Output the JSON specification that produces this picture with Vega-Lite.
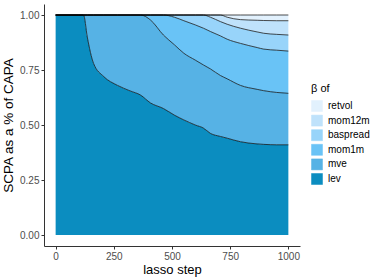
{
  "$schema": "https://vega.github.io/schema/vega-lite/v6.json",
  "autosize": "none",
  "padding": {"left": 44, "top": 4, "right": 82, "bottom": 33},
  "width": 256,
  "height": 242,
  "background": "white",
  "config": {
    "view": {"stroke": null},
    "font": "Liberation Sans"
  },
  "datasets": {
    "ranks": [
      {"key": "lev", "rank": 1},
      {"key": "mve", "rank": 2},
      {"key": "mom1m", "rank": 3},
      {"key": "baspread", "rank": 4},
      {"key": "mom12m", "rank": 5},
      {"key": "retvol", "rank": 6}
    ]
  },
  "data": {
    "values": [
      {"step": 0, "lev": 1, "mve": 0, "mom1m": 0, "baspread": 0, "mom12m": 0, "retvol": 0},
      {"step": 100, "lev": 1, "mve": 0, "mom1m": 0, "baspread": 0, "mom12m": 0, "retvol": 0},
      {"step": 120, "lev": 1, "mve": 0, "mom1m": 0, "baspread": 0, "mom12m": 0, "retvol": 0},
      {"step": 136, "lev": 0.9, "mve": 0.1, "mom1m": 0, "baspread": 0, "mom12m": 0, "retvol": 0},
      {"step": 163, "lev": 0.78, "mve": 0.22, "mom1m": 0, "baspread": 0, "mom12m": 0, "retvol": 0},
      {"step": 207, "lev": 0.72, "mve": 0.28, "mom1m": 0, "baspread": 0, "mom12m": 0, "retvol": 0},
      {"step": 266, "lev": 0.68, "mve": 0.32, "mom1m": 0, "baspread": 0, "mom12m": 0, "retvol": 0},
      {"step": 320, "lev": 0.655, "mve": 0.345, "mom1m": 0, "baspread": 0, "mom12m": 0, "retvol": 0},
      {"step": 365, "lev": 0.636, "mve": 0.364, "mom1m": 0, "baspread": 0, "mom12m": 0, "retvol": 0},
      {"step": 408, "lev": 0.6, "mve": 0.377, "mom1m": 0.023, "baspread": 0, "mom12m": 0, "retvol": 0},
      {"step": 463, "lev": 0.575, "mve": 0.334, "mom1m": 0.091, "baspread": 0, "mom12m": 0, "retvol": 0},
      {"step": 510, "lev": 0.545, "mve": 0.32, "mom1m": 0.125, "baspread": 0.01, "mom12m": 0, "retvol": 0},
      {"step": 551, "lev": 0.523, "mve": 0.303, "mom1m": 0.148, "baspread": 0.026, "mom12m": 0, "retvol": 0},
      {"step": 600, "lev": 0.5, "mve": 0.295, "mom1m": 0.16, "baspread": 0.045, "mom12m": 0, "retvol": 0},
      {"step": 635, "lev": 0.486, "mve": 0.287, "mom1m": 0.167, "baspread": 0.06, "mom12m": 0, "retvol": 0},
      {"step": 665, "lev": 0.462, "mve": 0.293, "mom1m": 0.17, "baspread": 0.065, "mom12m": 0.01, "retvol": 0},
      {"step": 708, "lev": 0.448, "mve": 0.277, "mom1m": 0.18, "baspread": 0.065, "mom12m": 0.03, "retvol": 0},
      {"step": 737, "lev": 0.44, "mve": 0.27, "mom1m": 0.18, "baspread": 0.068, "mom12m": 0.032, "retvol": 0.01},
      {"step": 794, "lev": 0.424, "mve": 0.256, "mom1m": 0.191, "baspread": 0.069, "mom12m": 0.039, "retvol": 0.021},
      {"step": 866, "lev": 0.414, "mve": 0.248, "mom1m": 0.19, "baspread": 0.071, "mom12m": 0.053, "retvol": 0.024},
      {"step": 894, "lev": 0.412, "mve": 0.244, "mom1m": 0.189, "baspread": 0.072, "mom12m": 0.058, "retvol": 0.025},
      {"step": 950, "lev": 0.41, "mve": 0.238, "mom1m": 0.192, "baspread": 0.072, "mom12m": 0.062, "retvol": 0.026},
      {"step": 1000, "lev": 0.41, "mve": 0.234, "mom1m": 0.192, "baspread": 0.073, "mom12m": 0.065, "retvol": 0.026}
    ]
  },
  "transform": [
    {"fold": ["lev", "mve", "mom1m", "baspread", "mom12m", "retvol"], "as": ["key", "value"]},
    {"lookup": "key", "from": {"data": {"name": "ranks"}, "key": "key", "fields": ["rank"]}}
  ],
  "mark": {"type": "area", "interpolate": "monotone", "opacity": 1, "fillOpacity": 1, "line": {"stroke": "black", "strokeWidth": 0.7, "opacity": 1}},
  "encoding": {
    "x": {
      "field": "step", "type": "quantitative",
      "scale": {"domain": [-50, 1050], "nice": false, "zero": false},
      "axis": {"title": "lasso step", "values": [0, 250, 500, 750, 1000], "format": "d", "grid": false,
        "domainColor": "#333", "domainWidth": 1, "tickColor": "#333", "tickSize": 3,
        "labelColor": "#4d4d4d", "labelFontSize": 10, "labelPadding": 2,
        "titleFontSize": 13, "titleFontWeight": "normal", "titleColor": "black", "titlePadding": 2}
    },
    "y": {
      "field": "value", "type": "quantitative", "stack": "zero",
      "scale": {"domain": [-0.05, 1.05], "nice": false},
      "axis": {"title": "SCPA as a % of CAPA", "values": [0, 0.25, 0.5, 0.75, 1], "format": ".2f", "grid": false,
        "domainColor": "#333", "domainWidth": 1, "tickColor": "#333", "tickSize": 3,
        "labelColor": "#4d4d4d", "labelFontSize": 10, "labelPadding": 2,
        "titleFontSize": 13.5, "titleFontWeight": "normal", "titleColor": "black", "titlePadding": 4}
    },
    "color": {
      "field": "key", "type": "nominal",
      "scale": {
        "domain": ["retvol", "mom12m", "baspread", "mom1m", "mve", "lev"],
        "range": ["#e2f1fd", "#bfe2fb", "#98d4fa", "#69c3f6", "#56b2e5", "#0b8dc0"]
      },
      "legend": {
        "title": "β of", "orient": "none", "legendX": 267, "legendY": 79,
        "symbolType": "square", "symbolSize": 121, "symbolStrokeColor": "#444", "symbolStrokeWidth": 0.5,
        "symbolOpacity": 1, "symbolFillOpacity": 1, "rowPadding": 0.6, "labelOffset": 5,
        "labelFontSize": 10, "labelColor": "black", "titleFontSize": 11, "titleFontWeight": "normal",
        "titlePadding": 6
      }
    },
    "order": {"field": "rank", "type": "quantitative", "sort": "ascending"}
  }
}
